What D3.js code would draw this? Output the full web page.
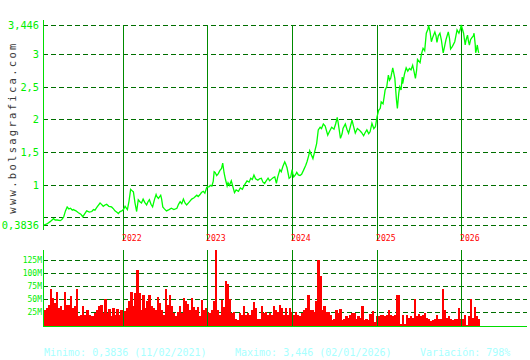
<!DOCTYPE html>
<html>
<head>
<meta charset="utf-8">
<script src="https://cdn.jsdelivr.net/npm/d3@7"></script>
<style>
  html, body { margin: 0; padding: 0; background: #fff; }
  svg { display: block; }
  text { font-family: "DejaVu Sans Mono", "Liberation Mono", monospace; }
</style>
</head>
<body>
<svg id="chart" width="530" height="360"></svg>
<script>
// ---------------- DATA ----------------
const priceDates = [
"2021-02-11","2021-02-23","2021-03-08","2021-03-22","2021-03-29","2021-04-06","2021-04-19","2021-04-26",
"2021-05-03","2021-05-10","2021-05-17","2021-05-24","2021-05-31","2021-06-07","2021-06-11","2021-06-22",
"2021-07-02","2021-07-12","2021-07-20","2021-07-27","2021-08-05","2021-08-16","2021-08-26","2021-09-02",
"2021-09-08","2021-09-17","2021-09-29","2021-10-05","2021-10-12","2021-10-19","2021-10-26","2021-11-04",
"2021-11-15","2021-11-23","2021-11-29","2021-12-07","2021-12-13","2021-12-20","2021-12-27",
"2022-01-03","2022-01-10","2022-01-20","2022-01-27","2022-02-03","2022-02-09","2022-02-15","2022-02-22",
"2022-03-01","2022-03-08","2022-03-15","2022-03-22","2022-03-29","2022-04-05","2022-04-13","2022-04-19",
"2022-04-25","2022-05-02","2022-05-09","2022-05-16","2022-05-24","2022-05-27","2022-06-03","2022-06-13",
"2022-06-17","2022-06-22","2022-06-29","2022-07-08","2022-07-19","2022-07-29","2022-08-09","2022-08-22",
"2022-08-29","2022-09-05","2022-09-12","2022-09-19","2022-09-26","2022-10-03","2022-10-13","2022-10-25",
"2022-11-04","2022-11-16","2022-11-22","2022-11-30","2022-12-06","2022-12-14","2022-12-21","2022-12-29",
"2023-01-09","2023-01-13","2023-01-20","2023-01-26","2023-01-30","2023-02-03","2023-02-10","2023-02-17",
"2023-02-24","2023-03-03","2023-03-08","2023-03-14","2023-03-20","2023-03-27","2023-03-31","2023-04-06",
"2023-04-14","2023-04-21","2023-04-28","2023-05-05","2023-05-15","2023-05-23","2023-06-01","2023-06-09",
"2023-06-21","2023-06-30","2023-07-07","2023-07-14","2023-07-21","2023-07-28","2023-08-07","2023-08-14",
"2023-08-22","2023-08-29","2023-09-05","2023-09-12","2023-09-20","2023-09-27","2023-10-06","2023-10-13",
"2023-10-19","2023-10-26","2023-11-01","2023-11-10","2023-11-16","2023-11-23","2023-12-01","2023-12-05",
"2023-12-11","2023-12-20","2023-12-27",
"2024-01-02","2024-01-05","2024-01-09","2024-01-16","2024-01-22","2024-01-29","2024-02-05","2024-02-12",
"2024-02-20","2024-03-01","2024-03-07","2024-03-14","2024-03-18","2024-03-25","2024-04-01","2024-04-08",
"2024-04-17","2024-04-24","2024-05-02","2024-05-08","2024-05-16","2024-05-24","2024-06-04","2024-06-12",
"2024-06-21","2024-07-01","2024-07-08","2024-07-15","2024-07-19","2024-07-29","2024-08-05","2024-08-09",
"2024-08-19","2024-08-26","2024-09-02","2024-09-09","2024-09-17","2024-09-23","2024-10-01","2024-10-10",
"2024-10-18","2024-10-28","2024-11-06","2024-11-13","2024-11-20","2024-11-28","2024-12-04","2024-12-12",
"2024-12-20","2024-12-27",
"2025-01-03","2025-01-10","2025-01-17","2025-01-21","2025-01-29","2025-02-03","2025-02-07","2025-02-14",
"2025-02-21","2025-02-26","2025-03-03","2025-03-12","2025-03-17","2025-03-21","2025-03-28","2025-04-01",
"2025-04-07","2025-04-11","2025-04-17","2025-04-22","2025-04-24","2025-05-02","2025-05-09","2025-05-16",
"2025-05-23","2025-05-30","2025-06-06","2025-06-11","2025-06-18","2025-06-23","2025-06-27","2025-07-08",
"2025-07-14","2025-07-21","2025-07-28","2025-08-04","2025-08-11","2025-08-14","2025-08-20","2025-08-26",
"2025-09-01","2025-09-10","2025-09-15","2025-09-19","2025-09-25","2025-10-02","2025-10-08","2025-10-16",
"2025-10-21","2025-10-28","2025-11-07","2025-11-12","2025-11-17","2025-11-25","2025-12-05","2025-12-10",
"2025-12-15","2025-12-23","2025-12-29",
"2026-01-02","2026-01-12","2026-01-19","2026-01-23","2026-01-29","2026-02-02","2026-02-06","2026-02-11",
"2026-02-16","2026-02-23","2026-02-26","2026-03-03","2026-03-05","2026-03-09","2026-03-12","2026-03-16",
"2026-03-18"
];
const priceValues = [
0.3836,0.40,0.435,0.48,0.46,0.46,0.45,0.47,
0.51,0.60,0.66,0.63,0.64,0.61,0.62,0.60,
0.57,0.55,0.51,0.55,0.60,0.58,0.59,0.62,
0.61,0.66,0.72,0.70,0.67,0.69,0.70,0.67,
0.66,0.63,0.60,0.58,0.56,0.59,0.60,
0.62,0.67,0.62,0.75,0.93,0.91,0.89,0.72,
0.59,0.77,0.74,0.72,0.78,0.73,0.69,0.74,
0.77,0.70,0.66,0.76,0.85,0.82,0.79,0.84,
0.78,0.66,0.63,0.60,0.62,0.64,0.62,0.64,
0.70,0.74,0.71,0.78,0.72,0.69,0.73,0.78,
0.80,0.84,0.82,0.85,0.88,0.90,0.87,0.96,
0.97,0.99,0.98,1.05,1.20,1.19,1.14,1.17,
1.22,1.25,1.33,1.18,1.08,0.98,1.03,0.99,
1.06,0.97,0.88,0.92,0.90,0.95,0.93,0.99,
1.06,1.04,1.10,1.08,1.15,1.09,1.07,1.09,
1.10,1.04,1.02,1.06,1.10,1.06,1.09,1.11,
1.12,1.02,1.12,1.23,1.20,1.28,1.35,1.32,
1.26,1.10,1.12,
1.23,1.17,1.12,1.15,1.19,1.15,1.14,1.16,
1.22,1.30,1.36,1.45,1.52,1.46,1.40,1.50,
1.63,1.84,1.88,1.86,1.93,1.90,1.76,1.82,
1.88,1.85,1.93,2.03,1.95,1.71,1.78,1.86,
1.93,1.85,1.79,1.88,1.99,1.90,1.79,1.86,
1.84,1.80,1.75,1.80,1.84,1.78,1.81,1.94,
1.86,1.89,
2.04,2.14,2.17,2.27,2.24,2.35,2.45,2.50,
2.68,2.60,2.63,2.79,2.70,2.63,2.30,2.17,
2.40,2.50,2.45,2.65,2.55,2.70,2.79,2.74,
2.78,2.76,2.83,2.75,2.63,2.75,2.92,2.87,
3.00,3.09,3.05,3.32,3.38,3.44,3.35,3.19,
3.26,3.34,3.28,3.18,3.28,3.32,3.22,3.02,
3.10,3.22,3.34,3.25,3.08,3.12,3.19,3.28,
3.37,3.32,3.38,
3.446,3.32,3.14,3.22,3.29,3.20,3.14,3.22,
3.25,3.28,3.32,3.15,3.02,3.08,3.14,3.05,
3.02
];
// daily-ish volume, millions of shares, left to right
const volumeValues = [
30,33,40,69,53,42,65,33,37,30,64,40,40,57,33,38,69,17,20,38,20,30,20,17,17,24,30,38,40,24,
50,24,32,17,33,19,32,20,30,17,27,33,46,64,37,62,106,62,30,59,33,46,59,37,33,30,54,43,30,20,
69,40,59,37,24,17,26,37,24,53,46,41,30,
52,36,30,36,17,49,30,33,26,23,30,46,145,30,20,49,36,85,79,50,23,26,13,10,23,19,37,20,23,19,
30,44,34,12,12,38,23,26,19,23,20,38,30,26,39,33,19,34,20,34,26,19,26,19,17,23,30,33,58,30,
30,26,46,126,94,30,38,26,26,19,10,13,
30,23,31,10,12,17,15,20,23,23,12,17,15,37,10,12,10,21,28,6,17,17,20,20,17,20,30,20,17,19,
58,58,2,20,2,19,15,17,15,50,17,21,17,20,24,15,12,8,10,12,19,12,13,70,30,15,17,12,10,12,
12,33,12,12,20,1,17,50,15,36,17,12
];
const yearTicks = ["2022-01-01","2023-01-01","2024-01-01","2025-01-01","2026-01-01"];
const yearLabels = ["2022","2023","2024","2025","2026"];
const priceGrid = [3.446, 3, 2.5, 2, 1.5, 1, 0.5, 0.3836];
const priceGridLabels = ["3,446","3","2,5","2","1,5","1","","0,3836"];
const volumeTicks = [25, 50, 75, 100, 125];
const volumeTickLabels = ["25M","50M","75M","100M","125M"];
const footerTexts = ["Minimo: 0,3836 (11/02/2021)","Maximo: 3,446 (02/01/2026)","Variación: 798%"];
const watermark = "www.bolsagrafica.com";

// ---------------- LAYOUT ----------------
const parse = d3.timeParse("%Y-%m-%d");
const svg = d3.select("#chart");
const left = 43, right = 527;
const gridColor = "#006e00", yearLineColor = "#008a00", axisColor = "#00dd00", labelGreen = "#00ee00";

const x = d3.scaleTime()
  .domain([parse("2021-02-11"), parse("2022-01-01"), parse("2026-01-01"), parse("2026-03-18")])
  .range([44, 123, 461, 478.7]);
const y = d3.scaleLinear().domain([0.3836, 3.446]).range([225, 25]);
const yv = d3.scaleLinear().domain([0, 125]).range([325.3, 260.3]);

// watermark
svg.append("text")
  .attr("transform", "translate(16,127.5) rotate(-90)")
  .attr("text-anchor", "middle")
  .attr("font-size", 10.5)
  .attr("letter-spacing", 2.3)
  .attr("fill", "#3a3a3a")
  .text(watermark);

// price grid + labels via axis
const pAxis = d3.axisLeft(y)
  .tickValues(priceGrid)
  .tickSize(-(right - left))
  .tickPadding(4)
  .tickFormat((d, i) => priceGridLabels[i]);
const gP = svg.append("g").attr("transform", `translate(${left},0)`).call(pAxis);
gP.select(".domain").remove();
gP.selectAll("line").attr("stroke", gridColor).attr("stroke-dasharray", "5,3").attr("shape-rendering", "crispEdges");
gP.selectAll("text").attr("fill", labelGreen).attr("font-size", 10.3);

// volume grid + labels via axis
const vAxis = d3.axisLeft(yv)
  .tickValues(volumeTicks)
  .tickSize(-(right - left))
  .tickPadding(1)
  .tickFormat((d, i) => volumeTickLabels[i]);
const gV = svg.append("g").attr("transform", `translate(${left},0)`).call(vAxis);
gV.select(".domain").remove();
gV.selectAll("line").attr("stroke", gridColor).attr("stroke-dasharray", "5,3").attr("shape-rendering", "crispEdges");
gV.selectAll("text").attr("fill", labelGreen).attr("font-size", 8);

// year lines & labels
const years = yearTicks.map(parse);
svg.append("g").selectAll("line.yp").data(years).join("line")
  .attr("x1", d => Math.round(x(d)) + 0.5).attr("x2", d => Math.round(x(d)) + 0.5)
  .attr("y1", 25).attr("y2", 241)
  .attr("stroke", yearLineColor);
svg.append("g").selectAll("text").data(years).join("text")
  .attr("x", d => Math.round(x(d)) - 1).attr("y", 240.5)
  .attr("fill", "#ff0000").attr("font-size", 8.2)
  .text((d, i) => yearLabels[i]);

// volume bars
const xb = d3.scaleBand().domain(d3.range(volumeValues.length)).range([44, 480]).padding(0);
svg.append("g").selectAll("rect").data(volumeValues).join("rect")
  .attr("x", (d, i) => xb(i)).attr("width", xb.bandwidth() + 0.3)
  .attr("y", d => yv(d)).attr("height", d => yv(0) - yv(d) + 0.7)
  .attr("fill", "#ff0000").attr("shape-rendering", "crispEdges");

// year lines in volume panel
svg.append("g").selectAll("line").data(years).join("line")
  .attr("x1", d => Math.round(x(d)) + 0.5).attr("x2", d => Math.round(x(d)) + 0.5)
  .attr("y1", 250).attr("y2", 326)
  .attr("stroke", yearLineColor);

// price line
const priceData = priceDates.map((d, i) => ({ date: parse(d), value: priceValues[i] }));
svg.append("path").datum(priceData)
  .attr("fill", "none").attr("stroke", "#00ff00").attr("stroke-width", 1.3)
  .attr("d", d3.line().x(d => x(d.date)).y(d => y(d.value)));

// axes lines
svg.append("line").attr("x1", left + 0.5).attr("x2", left + 0.5).attr("y1", 20).attr("y2", 230)
  .attr("stroke", axisColor);
svg.append("line").attr("x1", left + 0.5).attr("x2", left + 0.5).attr("y1", 250).attr("y2", 327)
  .attr("stroke", axisColor);
svg.append("line").attr("x1", left).attr("x2", right).attr("y1", 326.5).attr("y2", 326.5)
  .attr("stroke", axisColor);

// footer
const footerX = [44, 235, 420];
svg.append("g").selectAll("text").data(footerTexts).join("text")
  .attr("x", (d, i) => footerX[i]).attr("y", 355.5)
  .attr("fill", "#a8ffff").attr("font-size", 10)
  .text(d => d);
</script>
</body>
</html>
